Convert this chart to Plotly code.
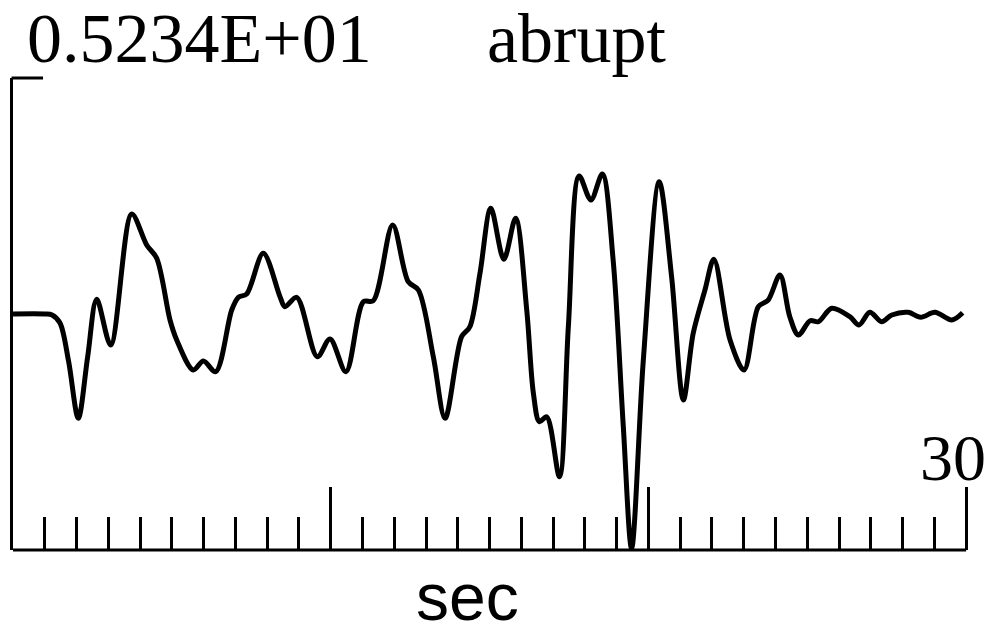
import plotly.graph_objects as go

# seismogram trace: time (s) and amplitude
t = [0.0, 1.0, 1.23, 1.48, 1.75, 2.055, 2.35, 2.635, 3.075, 3.736, 4.208, 4.523,
     4.942, 5.153, 5.675, 5.99, 6.38, 6.884, 7.092, 7.356, 7.878, 8.404, 8.561, 8.93,
     9.578, 9.978, 10.48, 11.03, 11.34, 11.95, 12.44, 12.76, 13.23, 13.60, 14.12, 14.38,
     14.70, 15.04, 15.45, 15.82, 16.17, 16.38, 16.57, 16.80, 17.20, 17.48, 17.82, 18.19,
     18.55, 18.89, 19.21, 19.47, 19.84, 20.34, 20.73, 21.10, 21.41, 21.78, 22.06, 22.57,
     23.01, 23.46, 23.77, 24.14, 24.45, 24.72, 25.09, 25.35, 25.77, 26.34, 26.63, 26.97,
     27.34, 27.66, 28.18, 28.57, 29.02, 29.55, 29.89]
amp = [0.0, 0.0, -0.02, -0.20, -1.05, -2.31, -0.95, 0.326, -0.688, 2.218, 1.53, 1.235,
       -0.133, -0.577, -1.242, -1.042, -1.28, 0.089, 0.37, 0.444, 1.346, 0.384, 0.162, 0.37,
       -0.947, -0.554, -1.28, 0.273, 0.295, 1.974, 0.716, 0.532, -0.947, -2.313, -0.503, -0.282,
       0.909, 2.344, 1.213, 2.122, 0.089, -1.759, -2.389, -2.278, -3.608, -0.282, 3.06, 2.528,
       3.105, 1.198, -2.50, -5.196, -1.02, 2.934, 0.827, -1.907, -0.428, 0.532, 1.213, -0.577,
       -1.242, 0.162, 0.31, 0.865, -0.06, -0.466, -0.149, -0.171, 0.126, -0.06, -0.244, 0.038,
       -0.171, -0.022, 0.038, -0.073, 0.038, -0.133, 0.029]

peak_label = "0.5234E+01"
event_label = "abrupt"
t_max = 30
amp_max = 5.234
minor_ticks = list(range(1, t_max))
major_ticks = [10, 20, 30]
x_title = "sec"

W, H = 996, 623
X0_PX, X30_PX = 13, 966           # pixel positions of t=0 and t=t_max
T, B = 78, 73
pad_t = 0.5                        # extra range beyond t_max so the last tick is drawn
px_per_s = (X30_PX - X0_PX) / t_max
L = X0_PX
R = W - X30_PX - pad_t * px_per_s
x_range = [0, t_max + pad_t]

fig = go.Figure()
fig.add_trace(go.Scatter(x=t, y=amp, mode="lines",
                         line=dict(color="black", width=5, shape="spline", smoothing=0.9),
                         hoverinfo="skip", showlegend=False))

tick_common = dict(range=x_range, showgrid=False, zeroline=False, showline=False,
                   tickmode="array", ticks="inside", tickwidth=3, tickcolor="black",
                   showticklabels=False, fixedrange=True)

fig.update_layout(
    width=W, height=H,
    margin=dict(l=L, r=R, t=T, b=B, pad=0),
    paper_bgcolor="white", plot_bgcolor="white",
    showlegend=False,
    xaxis=dict(tickvals=minor_ticks, ticklen=33, **tick_common),
    xaxis2=dict(tickvals=major_ticks, ticklen=63, overlaying="x", anchor="y",
                side="bottom", **tick_common),
    yaxis=dict(range=[-amp_max, amp_max], showgrid=False, zeroline=False,
               showline=True, linecolor="black", linewidth=3,
               showticklabels=False, ticks="", fixedrange=True),
    shapes=[
        dict(type="line", xref="paper", yref="paper", x0=-0.0015, x1=0.031, y0=1, y1=1,
             line=dict(color="black", width=3)),
        dict(type="line", xref="x", yref="paper", x0=0, x1=t_max, y0=0, y1=0,
             line=dict(color="black", width=3)),
    ],
    annotations=[
        dict(text=peak_label, xref="paper", yref="paper", x=0, y=1, xanchor="left",
             yanchor="bottom", xshift=12, yshift=-1, showarrow=False,
             font=dict(family="Liberation Serif", size=70, color="black")),
        dict(text=event_label, xref="paper", yref="paper", x=0, y=1, xanchor="left",
             yanchor="bottom", xshift=472, yshift=-1, showarrow=False,
             font=dict(family="Liberation Serif", size=70, color="black")),
        dict(text=str(t_max), xref="x", yref="paper", x=t_max, y=0, xanchor="center",
             yanchor="bottom", xshift=-13, yshift=54, showarrow=False,
             font=dict(family="Liberation Serif", size=66, color="black")),
        dict(text=x_title, xref="x", yref="paper", x=(467 - X0_PX) / px_per_s, y=0,
             xanchor="center", yanchor="top", yshift=-8, showarrow=False,
             font=dict(family="Liberation Sans", size=66, color="black")),
    ],
)

# invisible companion trace so the major-tick axis is rendered
fig.add_trace(go.Scatter(x=[t[0]], y=[amp[0]], xaxis="x2", mode="lines",
                         line=dict(width=0), hoverinfo="skip", showlegend=False))

fig.write_html("out.html")
